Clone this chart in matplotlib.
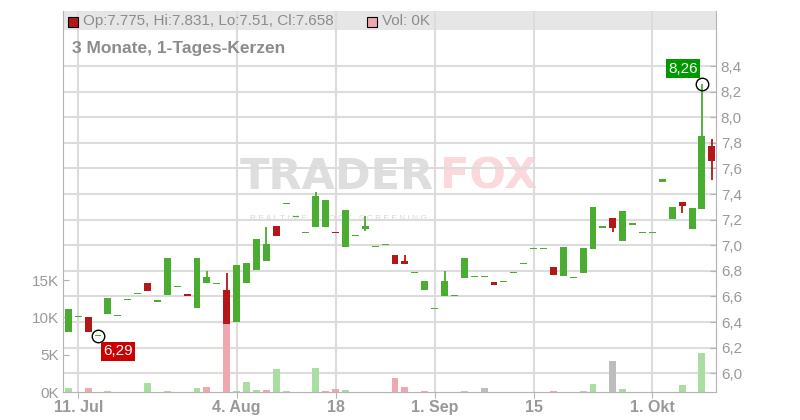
import numpy as np
import pandas as pd
import matplotlib
matplotlib.use("Agg")
import matplotlib.pyplot as plt
import matplotlib.transforms as mtransforms
from matplotlib.patches import Rectangle

plt.rcParams['font.family'] = ['Liberation Sans', 'DejaVu Sans']

# daily candles 10 Jul - 9 Oct (trading days)
days = pd.bdate_range("2025-07-10", "2025-10-09")

opens = [6.32, 6.44, 6.44, 6.29, 6.466, 6.448, 6.57, 6.617, 6.705, 6.56,
         6.61, 6.672, 6.62, 6.513, 6.705, 6.695, 6.65, 6.40, 6.705, 6.807,
         6.877, 7.15, 7.323, 7.22, 7.094, 7.146, 7.146, 7.105, 6.99, 7.07,
         7.13, 6.984, 7.0, 6.924, 6.877, 6.78, 6.653, 6.50, 6.60, 6.60,
         6.747, 6.75, 6.75, 6.713, 6.71, 6.78, 6.85, 6.97, 6.97, 6.83,
         6.763, 6.742, 6.786, 6.974, 7.138, 7.213, 7.03, 7.16, 7.096, 7.096,
         7.497, 7.206, 7.338, 7.127, 7.283, 7.775]
closes = [6.50, 6.44, 6.32, 6.29, 6.588, 6.448, 6.57, 6.617, 6.645, 6.56,
          6.90, 6.672, 6.604, 6.90, 6.752, 6.695, 6.385, 6.846, 6.862, 7.05,
          7.01, 7.073, 7.323, 7.22, 7.094, 7.385, 7.354, 7.095, 7.276, 7.07,
          7.15, 6.984, 7.0, 6.855, 6.85, 6.78, 6.72, 6.50, 6.72, 6.60,
          6.90, 6.75, 6.75, 6.693, 6.71, 6.78, 6.85, 6.97, 6.97, 6.77,
          6.987, 6.742, 6.979, 7.30, 7.138, 7.138, 7.268, 7.16, 7.096, 7.096,
          7.52, 7.30, 7.31, 7.29, 7.854, 7.658]
highs = [6.50, 6.44, 6.44, 6.29, 6.588, 6.448, 6.57, 6.617, 6.705, 6.56,
         6.90, 6.672, 6.62, 6.90, 6.80, 6.695, 6.78, 6.846, 6.862, 7.05,
         7.143, 7.15, 7.323, 7.22, 7.094, 7.416, 7.354, 7.105, 7.276, 7.07,
         7.23, 6.984, 7.0, 6.924, 6.924, 6.78, 6.72, 6.50, 6.80, 6.60,
         6.90, 6.75, 6.75, 6.713, 6.71, 6.78, 6.85, 6.97, 6.97, 6.83,
         6.987, 6.742, 6.979, 7.30, 7.138, 7.213, 7.268, 7.16, 7.096, 7.096,
         7.52, 7.30, 7.338, 7.29, 8.26, 7.831]
lows = [6.32, 6.44, 6.32, 6.29, 6.466, 6.448, 6.57, 6.617, 6.645, 6.56,
        6.61, 6.672, 6.604, 6.513, 6.705, 6.695, 6.385, 6.40, 6.705, 6.807,
        6.877, 7.073, 7.323, 7.22, 7.094, 7.146, 7.146, 7.095, 6.99, 7.07,
        7.114, 6.984, 7.0, 6.855, 6.85, 6.78, 6.653, 6.50, 6.60, 6.60,
        6.747, 6.75, 6.75, 6.693, 6.71, 6.78, 6.85, 6.97, 6.97, 6.77,
        6.763, 6.742, 6.786, 6.974, 7.138, 7.10, 7.03, 7.16, 7.096, 7.096,
        7.497, 7.206, 7.255, 7.127, 7.283, 7.51]
volumes = [0.54, 0, 0.54, 0, 0.13, 0, 0, 0, 1.2, 0,
           0.13, 0, 0, 0.54, 0.67, 0, 9.1, 0.13, 1.34, 0.27,
           0.27, 3.08, 0.13, 0, 0, 3.2, 0.13, 0.4, 0.27, 0,
           0, 0, 0, 1.88, 0.67, 0, 0.13, 0, 0, 0,
           0.13, 0, 0.54, 0, 0, 0, 0, 0, 0, 0.13,
           0, 0, 0.13, 1.07, 0, 4.15, 0.4, 0, 0, 0,
           0, 0, 0.94, 0, 5.2, 0]  # in K

tick_dates = ["2025-07-11", "2025-08-04", "2025-08-18", "2025-09-01", "2025-09-15", "2025-10-01"]
tick_labels = ["11. Jul", "4. Aug", "18", "1. Sep", "15", "1. Okt"]
price_ticks = np.round(np.arange(6.0, 8.41, 0.2), 1)
vol_ticks = [0, 5, 10, 15]

GREEN = "#4aad31"
RED = "#b41717"
V_GREEN = "#a9dda2"
V_RED = "#f0a7b0"
V_GRAY = "#bdbdbd"
GRID = "#dcdcdc"
TXT = "#999999"
SPINE = "#b3b3b3"

W, H = 800, 420
fig = plt.figure(figsize=(8, 4.2), dpi=100)
L, R, T, B = 63, 716, 11, 392
axv = fig.add_axes([L / W, 1 - B / H, (R - L) / W, (B - T) / H])
ax = axv.twinx()

x = np.arange(len(days))
o = np.array(opens); c = np.array(closes)
hi = np.array(highs); lo = np.array(lows)
vol = np.array(volumes)

axv.set_xlim(-0.535, 65.42)
ax.set_ylim(5.854, 8.83)
axv.set_ylim(0, 51.07)

# header band
axv.add_patch(Rectangle((0, (B - 30) / (B - T)), 1, 1 - (B - 30) / (B - T),
                        transform=axv.transAxes, facecolor="#e6e6e6", edgecolor="none", zorder=0.5))

# grid
tick_pos = [days.get_loc(pd.Timestamp(d)) for d in tick_dates]
for p in tick_pos:
    axv.axvline(p, color=GRID, lw=1.5, zorder=1)
blend = mtransforms.blended_transform_factory(axv.transAxes, ax.transData)
for p in price_ticks:
    axv.plot([0, 1], [p, p], transform=blend, color=GRID, lw=1.5, zorder=1)

# watermark
axv.text(0.270, 0.565, "TRADER", transform=axv.transAxes, fontsize=31, fontweight="bold",
         family="DejaVu Sans", color="#dedede", ha="left", va="center", zorder=0.8)
axv.text(0.578, 0.565, "FOX", transform=axv.transAxes, fontsize=31, fontweight="bold",
         family="DejaVu Sans", color="#fad8dc", ha="left", va="center", zorder=0.8)
axv.text(0.287, 0.455, "R E A L T I M E   S T O C K   S C R E E N I N G", transform=axv.transAxes,
         fontsize=6.0, color="#d8d8d8", ha="left", va="center", zorder=0.8)

# volume bars
prev = np.r_[c[0] - 1, c[:-1]]
vcol = np.where(np.isclose(c, prev), V_GRAY, np.where(c > prev, V_GREEN, V_RED))
axv.bar(x, vol, width=0.7, color=vcol, zorder=2)

# candles
ccol = np.where(c >= o, GREEN, RED)
ax.vlines(x, lo, hi, colors=ccol, lw=1.3, zorder=2)
body_lo = np.minimum(o, c)
body_h = np.maximum(np.abs(c - o), 0.011)
ax.bar(x, body_h, bottom=body_lo, width=0.7, color=ccol, zorder=3)

# low / high markers
i_lo = int(np.argmin(lo)); i_hi = int(np.argmax(hi))
ax.plot(x[i_lo], lo[i_lo], "o", ms=9, mfc="none", mec="black", mew=1, zorder=4)
ax.plot(x[i_hi], hi[i_hi], "o", ms=9, mfc="none", mec="black", mew=1, zorder=4)
ax.annotate(f"{lo[i_lo]:.2f}".replace(".", ","), (x[i_lo], lo[i_lo]), xytext=(4, -11),
            textcoords="offset points", color="white", fontsize=11, ha="left", va="center",
            bbox=dict(boxstyle="square,pad=0.15", fc="#cc0000", ec="none"), zorder=5)
ax.annotate(f"{hi[i_hi]:.2f}".replace(".", ","), (x[i_hi], hi[i_hi]), xytext=(-3, 11),
            textcoords="offset points", color="white", fontsize=11, ha="right", va="center",
            bbox=dict(boxstyle="square,pad=0.15", fc="#009900", ec="none"), zorder=5)

# axes styling
for a in (ax, axv):
    for s in a.spines.values():
        s.set_visible(False)
axv.spines["left"].set_visible(True)
axv.spines["left"].set_color(SPINE)
axv.spines["bottom"].set_visible(True)
axv.spines["bottom"].set_color(SPINE)
ax.spines["right"].set_visible(True)
ax.spines["right"].set_color(SPINE)

ax.set_yticks(price_ticks)
ax.set_yticklabels([f"{v:.1f}".replace(".", ",") for v in price_ticks])
ax.tick_params(axis="y", direction="in", length=4, color=SPINE, labelcolor=TXT, labelsize=11, pad=3.5)
axv.set_yticks(vol_ticks)
axv.set_yticklabels([f"{v}K" for v in vol_ticks])
axv.tick_params(axis="y", direction="in", length=4, color=SPINE, labelcolor=TXT, labelsize=11, pad=3)
axv.set_xticks(tick_pos)
axv.set_xticklabels(tick_labels, fontweight="bold")
axv.tick_params(axis="x", direction="out", length=4, color=SPINE, labelcolor=TXT, labelsize=11.5, pad=2)

# header texts
def fx(px): return px / W
def fy(py): return 1 - py / H

fig.add_artist(Rectangle((fx(68), fy(27)), 10 / W, 10 / H, transform=fig.transFigure,
                         facecolor=RED, edgecolor="black", lw=0.8))
fig.text(fx(83), fy(21), f"Op:{opens[-1]}, Hi:{highs[-1]}, Lo:{lows[-1]}, Cl:{closes[-1]}",
         color="#8c8c8c", fontsize=11, va="center", ha="left")
fig.add_artist(Rectangle((fx(367), fy(27)), 10 / W, 10 / H, transform=fig.transFigure,
                         facecolor=V_RED, edgecolor="black", lw=0.8))
fig.text(fx(382), fy(21), f"Vol: {volumes[-1]}K", color="#8c8c8c", fontsize=11, va="center", ha="left")
fig.text(fx(72), fy(48), "3 Monate, 1-Tages-Kerzen", color="#8c8c8c", fontsize=12.5,
         fontweight="bold", va="center", ha="left")

fig.savefig("out.png", dpi=100)
